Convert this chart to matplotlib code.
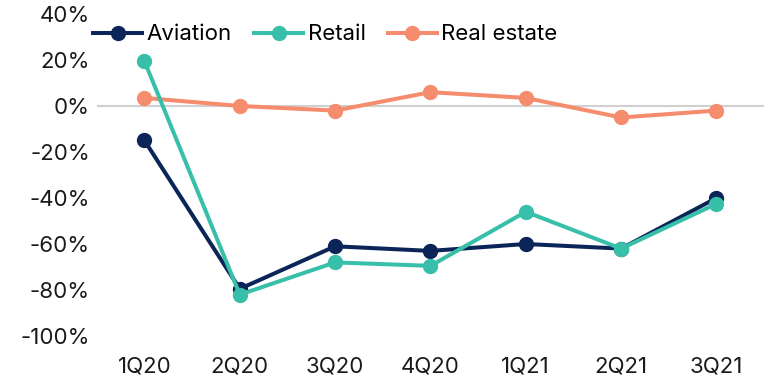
import numpy as np
import matplotlib.pyplot as plt
from matplotlib.ticker import FuncFormatter

plt.rcParams['font.family'] = ['Inter', 'DejaVu Sans']

quarters = ['1Q20', '2Q20', '3Q20', '4Q20', '1Q21', '2Q21', '3Q21']
aviation = [-15, -79.5, -61, -63, -60, -62, -40]
retail = [19.5, -82, -68, -69.5, -46, -62, -42.5]
real_estate = [3.5, 0, -2, 6, 3.5, -5, -2]

fig = plt.figure(figsize=(7.68, 3.88), dpi=100)
ax = fig.add_axes([0.126, 0.134, 0.869, 0.83])

x = np.arange(len(quarters))
ax.axhline(0, color='#d0d0d0', lw=1.5, zorder=1)
ax.plot(x, aviation, color='#0b2559', lw=2.9, marker='o', ms=10, label='Aviation', zorder=3)
ax.plot(x, retail, color='#38bfaa', lw=2.9, marker='o', ms=10, label='Retail', zorder=4)
ax.plot(x, real_estate, color='#f68c6e', lw=2.9, marker='o', ms=10, label='Real estate', zorder=2)

ax.set_xlim(-0.5, len(quarters) - 0.5)
ax.set_ylim(-100, 40)
ax.set_yticks(np.arange(-100, 41, 20))
ax.yaxis.set_major_formatter(FuncFormatter(lambda v, p: '%d%%' % v))
ax.set_xticks(x)
ax.set_xticklabels(quarters)
ax.tick_params(length=0, labelsize=16, colors='#1a1a1a')
ax.tick_params(axis='x', pad=15)
ax.tick_params(axis='y', pad=5)
for s in ax.spines.values():
    s.set_visible(False)

ax.legend(loc='upper left', bbox_to_anchor=(-0.035, 1.03), ncol=3, frameon=False,
          fontsize=16, handlelength=2.2, handletextpad=0.2, columnspacing=1.0)

fig.savefig('out.png', dpi=100)
